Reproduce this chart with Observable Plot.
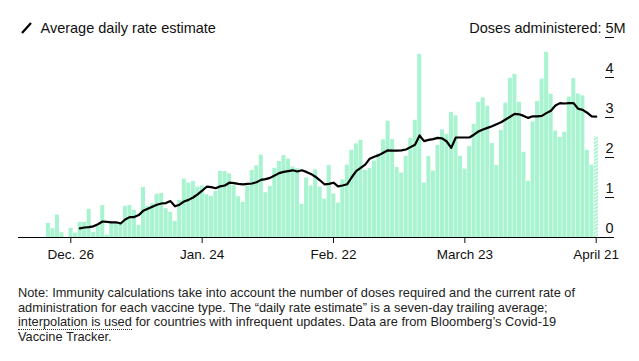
<!DOCTYPE html>
<html>
<head>
<meta charset="utf-8">
<script src="https://cdn.jsdelivr.net/npm/d3@7"></script>
<script src="https://cdn.jsdelivr.net/npm/@observablehq/plot@0.6"></script>
<style>
  html, body { margin: 0; padding: 0; background: #fff; }
  #wrap { position: relative; width: 639px; height: 361px; font-family: "Liberation Sans", Arial, sans-serif; }
  #note { position: absolute; left: 18px; top: 286px; font-size: 12.8px; line-height: 14.7px; color: #222; white-space: nowrap; }
  .dot { border-bottom: 1px dotted #333; }
</style>
</head>
<body>
<div id="wrap">
  <div id="chart"></div>
  <div id="note">Note: Immunity calculations take into account the number of doses required and the current rate of<br>administration for each vaccine type. The “daily rate estimate” is a seven-day trailing average;<br><span class="dot">interpolation is used</span> for countries with infrequent updates. Data are from Bloomberg’s Covid-19<br>Vaccine Tracker.</div>
</div>
<script>
// ---- data (millions of doses per day) ----
const firstDay = "2020-12-21";
const doses = [
  0.35, 0.22, 0.56, 0.12, 0, 0.23, 0.11, 0.38, 0.38, 0.70,
  0.13, 0.28, 0.80, 0.06, 0.35, 0.35, 0.38, 0.78, 0.80, 0.68,
  0.30, 1.25, 0.78, 0.84, 1.08, 1.10, 0.72, 0.63, 0.40, 0.93,
  1.46, 1.36, 1.40, 1.26, 1.29, 1.07, 1.03, 1.15, 1.65, 1.65,
  1.59, 1.29, 1.02, 0.88, 1.28, 1.68, 1.79, 2.06, 1.12, 1.28,
  1.73, 1.90, 2.05, 1.96, 1.76, 1.72, 0.83, 1.49, 1.29, 1.69,
  1.26, 0.96, 1.80, 1.09, 0.86, 1.44, 1.81, 2.18, 2.34, 2.43,
  1.68, 1.73, 1.91, 2.09, 2.44, 2.91, 2.45, 1.75, 1.61, 2.03,
  2.48, 2.93, 4.58, 1.36, 2.03, 1.66, 2.30, 2.69, 2.58, 3.13,
  3.04, 2.03, 1.71, 2.27, 2.83, 3.38, 3.49, 3.28, 2.35, 1.80,
  2.68, 3.36, 3.98, 4.08, 3.38, 2.13, 1.40, 2.89, 3.40, 3.96,
  4.63, 3.58, 2.66, 2.50, 2.63, 3.51, 3.97, 3.59, 3.54, 2.18,
  1.81, 2.52
];
const avgFirstDay = "2020-12-28";
const avgRate = [
  0.23, 0.25, 0.26, 0.28, 0.33, 0.40, 0.39, 0.38, 0.38, 0.35,
  0.45, 0.51, 0.51, 0.56, 0.67, 0.72, 0.77, 0.82, 0.85, 0.86,
  0.91, 0.78, 0.82, 0.90, 0.94, 1.00, 1.08, 1.17, 1.27, 1.26,
  1.23, 1.28, 1.30, 1.37, 1.36, 1.34, 1.33, 1.34, 1.35, 1.38,
  1.44, 1.46, 1.49, 1.55, 1.61, 1.64, 1.66, 1.68, 1.65, 1.68,
  1.64, 1.59, 1.52, 1.43, 1.33, 1.34, 1.37, 1.28, 1.30, 1.33,
  1.50, 1.66, 1.74, 1.82, 1.97, 2.02, 2.06, 2.12, 2.18, 2.17,
  2.17, 2.18, 2.20, 2.26, 2.32, 2.55, 2.41, 2.44, 2.46, 2.49,
  2.48, 2.40, 2.24, 2.50, 2.50, 2.50, 2.50, 2.57, 2.65, 2.70,
  2.74, 2.78, 2.83, 2.88, 2.95, 3.02, 3.09, 3.08, 3.04, 2.99,
  3.03, 3.03, 3.04, 3.11, 3.17, 3.30, 3.36, 3.35, 3.36, 3.36,
  3.22, 3.19, 3.12, 3.03, 3.02
];
const xTickDates = ["2020-12-26", "2021-01-24", "2021-02-22", "2021-03-23", "2021-04-21"];
const xTickLabels = ["Dec. 26", "Jan. 24", "Feb. 22", "March 23", "April 21"];
const yTicks = [0, 1, 2, 3, 4, 5];
const legendLabel = "Average daily rate estimate";
const yTitle = "Doses administered:";
const yUnit = "M";

// ---- build tables ----
const DAY = 864e5;
const t0 = new Date(firstDay + "T00:00:00Z");
const a0 = new Date(avgFirstDay + "T00:00:00Z");
const bars = doses.map((v, i) => ({date: new Date(+t0 + i * DAY), value: v, partial: i === doses.length - 1}));
const avg = avgRate.map((v, i) => ({date: new Date(+a0 + i * DAY), value: v}));
const tickDates = xTickDates.map(s => new Date(s + "T00:00:00Z"));
const lastDay = bars[bars.length - 1].date;

const barColor = "#a8f3d0";
const font = "'Liberation Sans', Arial, sans-serif";

const legendIcon = (index, scales, values, dims) => {
  const l = d3.create("svg:line")
    .attr("x1", dims.marginLeft + 4).attr("y1", dims.marginTop - 4)
    .attr("x2", dims.marginLeft + 13).attr("y2", dims.marginTop - 14)
    .attr("stroke", "#000").attr("stroke-width", 2.2);
  return l.node();
};

const header = {dy: -9, lineAnchor: "middle", fontSize: 14.5};

const chart = Plot.plot({
  width: 639,
  height: 270,
  marginLeft: 18,
  marginRight: 26,
  marginTop: 37,
  marginBottom: 33,
  style: {fontFamily: font, fontSize: "14px", color: "#111", background: "#fff"},
  x: {type: "utc", domain: [new Date(+t0 - 6.55 * DAY), new Date(+lastDay + 3.82 * DAY)], label: null},
  y: {domain: [0, 5], label: null},
  marks: [
    Plot.rectY(bars.filter(d => !d.partial), {
      x1: d => new Date(+d.date - DAY / 2), x2: d => new Date(+d.date + DAY / 2),
      y: "value", fill: barColor, insetLeft: 0.5
    }),
    Plot.rectY(bars.filter(d => d.partial), {
      x1: d => new Date(+d.date - DAY / 2), x2: d => new Date(+d.date + DAY / 2),
      y: "value", fill: "url(#hatch)", insetLeft: 0.5
    }),
    Plot.ruleY([0], {stroke: "#000", strokeWidth: 1.2}),
    Plot.lineY(avg, {x: "date", y: "value", stroke: "#000", strokeWidth: 2.2}),
    Plot.axisX({ticks: tickDates, tickSize: 6, tickPadding: 6, fontSize: 13.5, label: null,
      tickFormat: d => xTickLabels[tickDates.findIndex(t => +t === +d)]}),
    Plot.axisY({anchor: "right", ticks: yTicks, tickSize: -9, text: null, label: null}),
    Plot.text(yTicks, {y: d => d, text: d => String(d), frameAnchor: "right", dx: -8, dy: -9, lineAnchor: "middle", textAnchor: "start", fontSize: 14.5}),
    Plot.text([yTitle], {...header, frameAnchor: "top-right", dx: -12, textAnchor: "end"}),
    Plot.text([yUnit], {...header, frameAnchor: "top-right", dx: 0, textAnchor: "start"}),
    Plot.text([legendLabel], {...header, frameAnchor: "top-left", dx: 22, textAnchor: "start"}),
    legendIcon
  ]
});

// hatch pattern for the incomplete last day
const defs = d3.select(chart).insert("defs", ":first-child");
const pat = defs.append("pattern").attr("id", "hatch").attr("patternUnits", "userSpaceOnUse")
  .attr("width", 3).attr("height", 3).attr("patternTransform", "rotate(-30)");
pat.append("rect").attr("width", 3).attr("height", 2).attr("fill", barColor);

document.getElementById("chart").appendChild(chart);
</script>
</body>
</html>
